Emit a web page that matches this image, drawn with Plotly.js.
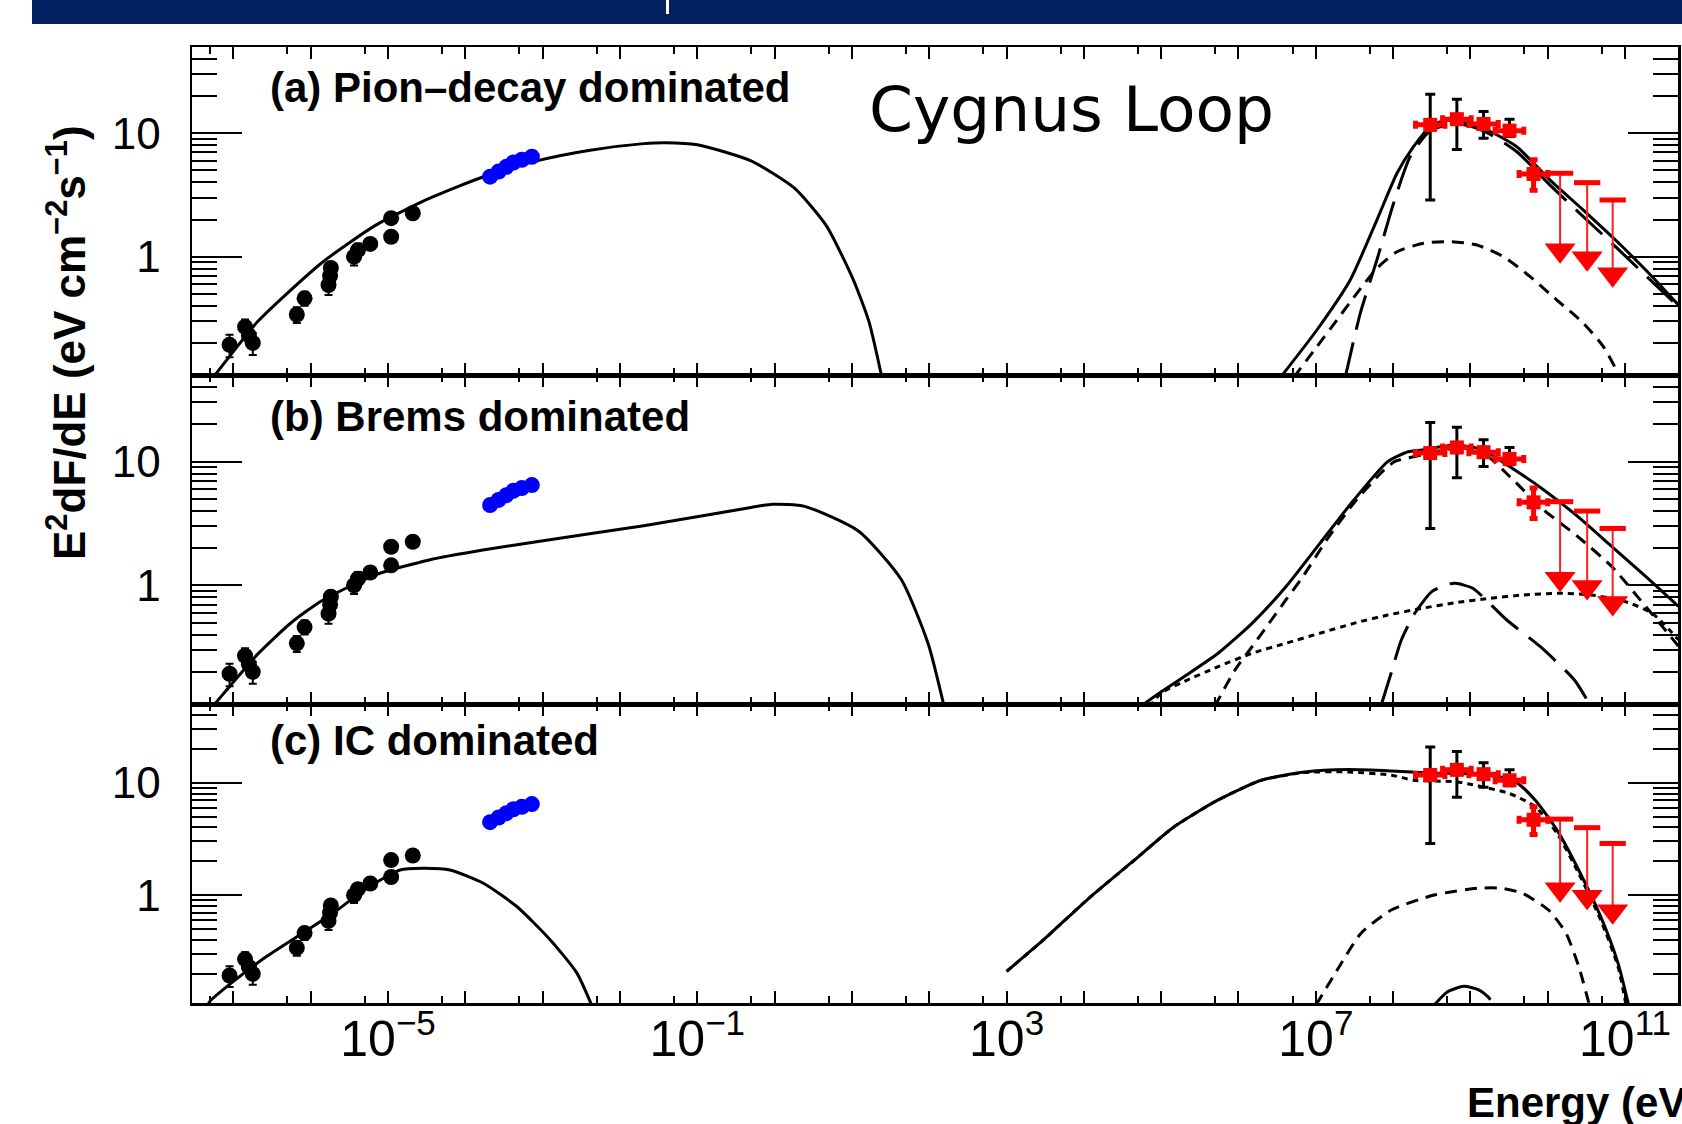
<!DOCTYPE html>
<html>
<head>
<meta charset="utf-8">
<script src="https://cdn.plot.ly/plotly-3.0.1.min.js"></script>
<style>html,body{margin:0;padding:0;background:#fff;}#chart{width:1682px;height:1124px;}</style>
</head>
<body>
<div id="chart"></div>
<script>
// ---------------- DATA ----------------
// log10(E/eV) and log10(E^2 dF/dE) for model curves
// Panel (a) Pion-decay dominated
const syncA_logE = [-7.30, -7.244, -6.69, -5.856, -5.163, -4.468, -3.775, -3.08, -2.387, -1.693, -1.416, -0.999, -0.305, 0.25, 0.666, 1.013, 1.221, 1.388];
const syncA_logF = [-1.00, -0.962, -0.528, -0.049, 0.254, 0.472, 0.646, 0.776, 0.863, 0.916, 0.924, 0.907, 0.776, 0.559, 0.254, -0.18, -0.528, -0.98];
const totalA_logE = [6.54, 7.014, 7.445, 7.79, 8.05, 8.264, 8.48, 8.696, 9.17, 9.6, 10.03, 10.46, 10.9, 11.33, 11.69];
const totalA_logF = [-0.98, -0.594, -0.189, 0.297, 0.676, 0.891, 1.054, 1.108, 1.04, 0.891, 0.62, 0.378, 0.121, -0.148, -0.391];
const pionA_logE = [7.38, 7.575, 7.79, 8.006, 8.22, 8.48, 8.825, 9.17, 9.6, 10.03, 10.46, 10.9, 11.33, 11.69];
const pionA_logF = [-0.98, -0.459, -0.027, 0.433, 0.81, 1.02, 1.08, 1.02, 0.85, 0.58, 0.325, 0.067, -0.19, -0.405];
const bremsA_logE = [6.712, 7.014, 7.273, 7.531, 7.79, 8.05, 8.393, 8.738, 9.083, 9.428, 9.773, 10.118, 10.463, 10.72, 10.94];
const bremsA_logF = [-0.98, -0.729, -0.513, -0.297, -0.094, 0.04, 0.109, 0.122, 0.095, 0.0, -0.162, -0.351, -0.54, -0.729, -0.98];
const floorA_logE = [3.16, 5.8];

// Panel (b) Brems dominated
const syncB_logE = [-7.30, -7.244, -6.69, -6.25, -5.856, -5.163, -4.468, -3.775, -3.08, -1.693, -0.305, -0.028, 0.388, 1.083, 1.636, 1.985, 2.193];
const syncB_logF = [-1.00, -0.96, -0.558, -0.30, -0.124, 0.085, 0.205, 0.285, 0.352, 0.482, 0.629, 0.655, 0.638, 0.439, 0.049, -0.47, -0.98];
const totalB_logE = [4.73, 5.0, 5.296, 5.736, 6.175, 6.613, 7.053, 7.492, 7.93, 8.194, 8.37, 8.81, 9.16, 9.511, 9.95, 10.39, 10.83, 11.27, 11.69];
const totalB_logF = [-0.98, -0.86, -0.738, -0.549, -0.307, -0.011, 0.339, 0.689, 0.999, 1.079, 1.093, 1.133, 1.093, 0.958, 0.77, 0.555, 0.313, 0.07, -0.17];
const bremsB_logE = [5.69, 5.955, 6.175, 6.395, 6.613, 6.833, 7.14, 7.49, 7.84, 8.018, 8.37, 8.81, 9.2, 9.511, 9.95, 10.39, 10.83, 11.27, 11.69];
const bremsB_logF = [-0.98, -0.684, -0.496, -0.307, -0.118, 0.07, 0.366, 0.663, 0.905, 0.999, 1.053, 1.107, 1.053, 0.877, 0.609, 0.393, 0.151, -0.173, -0.49];
const pionB_logE = [7.84, 7.974, 8.106, 8.28, 8.5, 8.72, 8.81, 9.03, 9.47, 9.905, 10.345, 10.56];
const pionB_logF = [-0.98, -0.71, -0.442, -0.226, -0.051, 0.01, 0.016, -0.024, -0.28, -0.496, -0.765, -0.98];
const icB_logE = [4.85, 5.0, 5.296, 5.736, 6.175, 6.613, 7.053, 7.492, 7.93, 8.37, 8.81, 9.247, 9.687, 10.126, 10.565, 11.0, 11.35, 11.69];
const icB_logF = [-0.98, -0.87, -0.778, -0.657, -0.549, -0.468, -0.387, -0.307, -0.24, -0.186, -0.14, -0.105, -0.078, -0.064, -0.078, -0.131, -0.225, -0.44];
const floorB_logE = [2.26, 4.69];

// Panel (c) IC dominated
const syncC_logE = [-7.35, -7.303, -7.001, -6.569, -6.138, -5.708, -5.276, -4.845, -4.543, -4.198, -3.767, -3.335, -2.904, -2.559, -2.365];
const syncC_logF = [-1.00, -0.942, -0.766, -0.544, -0.352, -0.159, 0.062, 0.224, 0.239, 0.224, 0.106, -0.101, -0.396, -0.691, -0.98];
const totalC_logE = [3.001, 3.48, 4.043, 4.606, 5.168, 5.731, 6.294, 6.857, 7.419, 7.982, 8.489, 9.108, 9.558, 9.839, 10.12, 10.4, 10.684, 10.908, 11.048];
const totalC_logF = [-0.677, -0.396, -0.041, 0.284, 0.608, 0.844, 1.021, 1.095, 1.116, 1.104, 1.086, 1.075, 1.021, 0.844, 0.578, 0.224, -0.189, -0.602, -0.98];
const icC_logE = [3.001, 3.48, 4.043, 4.606, 5.168, 5.731, 6.294, 6.857, 7.419, 7.982, 8.263, 8.826, 9.5, 9.839, 10.12, 10.4, 10.684, 10.908, 11.013];
const icC_logF = [-0.677, -0.396, -0.041, 0.284, 0.608, 0.844, 1.021, 1.09, 1.095, 1.066, 1.021, 1.006, 0.904, 0.785, 0.549, 0.194, -0.219, -0.632, -0.98];
const bremsC_logE = [7.0, 7.307, 7.588, 7.982, 8.545, 9.108, 9.389, 9.67, 10.007, 10.235, 10.4, 10.54];
const bremsC_logF = [-0.98, -0.632, -0.336, -0.13, 0.003, 0.062, 0.062, 0.018, -0.13, -0.336, -0.632, -0.98];
const pionC_logE = [8.528, 8.7, 8.916, 9.1, 9.218, 9.26];
const pionC_logF = [-0.98, -0.86, -0.81, -0.84, -0.898, -0.93];

// Radio data (black)
const radioLogE = [-7.05, -6.85, -6.80, -6.75, -6.18, -6.08, -5.77, -5.75, -5.74, -5.44, -5.39, -5.23, -4.96, -4.96, -4.68];
const radioFlux = [0.193, 0.27, 0.23, 0.20, 0.34, 0.46, 0.59, 0.70, 0.81, 1.00, 1.13, 1.27, 1.45, 2.05, 2.25];
const radioErr  = [0.04, 0.04, 0.03, 0.04, 0.05, 0.06, 0.10, 0.08, 0.08, 0.15, 0.15, 0.12, 0.12, 0.15, 0.15];

// Microwave data (blue)
const blueLogE = [-3.68, -3.57, -3.47, -3.38, -3.27, -3.14];
const blueFlux = [4.45, 4.9, 5.35, 5.8, 6.1, 6.45];

// Fermi-LAT data (red)
const fermiLogE   = [8.48, 8.825, 9.17, 9.506, 9.817];
const fermiBinLo  = [8.29, 8.64, 8.98, 9.32, 9.63];
const fermiBinHi  = [8.67, 9.01, 9.36, 9.69, 10.0];
const fermiFlux   = [11.7, 13.0, 11.9, 10.5, 4.68];
const fermiStatLo = [10.8, 12.0, 11.0, 9.8, 3.46];
const fermiStatHi = [12.6, 14.0, 12.8, 11.2, 6.1];
const sysLogE = [8.48, 8.825, 9.17, 9.506];
const sysFlux = [11.7, 13.0, 11.9, 10.5];
const sysLo   = [2.88, 7.4, 9.1, 9.4];
const sysHi   = [20.7, 18.9, 15.0, 13.0];

// Fermi upper limits
const ulLogE  = [10.16, 10.51, 10.84];
const ulBinLo = [9.99, 10.34, 10.67];
const ulBinHi = [10.33, 10.68, 11.01];
const ulFlux  = [4.74, 3.98, 2.88];
const ulArrow = [1.13, 0.97, 0.72];

// Tick labels
const xLabelExps = [-5, -1, 3, 7, 11];
const yTickVals = [1, 10];
const yTickText = ['1', '10'];
const panelLabels = ['(a) Pion\u2013decay dominated', '(b) Brems dominated', '(c) IC dominated'];

// ---------------- BUILD ----------------
const P = v => Math.pow(10, v);
const yMin = 0.11, yMax = 50;
const xRange = [-7.536, 11.685];
const yRange = [Math.log10(yMin), Math.log10(yMax)];
const FONT = 'Liberation Sans, Arial, Helvetica, sans-serif';

function curve(lx, ly, xa, ya, dash) {
  return {x: lx.map(P), y: ly.map(P), xaxis: xa, yaxis: ya, mode: 'lines', type: 'scatter',
    line: {color: 'black', width: 3, dash: dash || 'solid', shape: 'spline', smoothing: 0.6},
    hoverinfo: 'skip', showlegend: false};
}
const DASH_BREMS = '12px,8px', DASH_PION = '36px,13px', DASH_IC = '6px,5px';

function dataTraces(xa, ya) {
  const t = [];
  t.push({x: radioLogE.map(P), y: radioFlux, xaxis: xa, yaxis: ya, mode: 'markers', type: 'scatter',
    marker: {color: 'black', size: 16, symbol: 'circle'},
    error_y: {type: 'data', array: radioErr, color: 'black', thickness: 2, width: 4},
    showlegend: false, hoverinfo: 'skip'});
  t.push({x: blueLogE.map(P), y: blueFlux, xaxis: xa, yaxis: ya, mode: 'markers', type: 'scatter',
    marker: {color: '#0000ff', size: 16, symbol: 'circle'}, showlegend: false, hoverinfo: 'skip'});
  t.push({x: sysLogE.map(P), y: sysFlux, xaxis: xa, yaxis: ya, mode: 'markers', type: 'scatter',
    marker: {size: 1, color: 'rgba(0,0,0,0)'},
    error_y: {type: 'data', symmetric: false, array: sysHi.map((h, i) => h - sysFlux[i]),
      arrayminus: sysLo.map((l, i) => sysFlux[i] - l), color: 'black', thickness: 3, width: 5},
    showlegend: false, hoverinfo: 'skip'});
  t.push({x: fermiLogE.map(P), y: fermiFlux, xaxis: xa, yaxis: ya, mode: 'markers', type: 'scatter',
    marker: {color: '#ff0000', size: 14, symbol: 'square'},
    error_x: {type: 'data', symmetric: false, array: fermiBinHi.map((h, i) => P(h) - P(fermiLogE[i])),
      arrayminus: fermiBinLo.map((l, i) => P(fermiLogE[i]) - P(l)), color: '#ff0000', thickness: 5, width: 4},
    error_y: {type: 'data', symmetric: false, array: fermiStatHi.map((h, i) => h - fermiFlux[i]),
      arrayminus: fermiStatLo.map((l, i) => fermiFlux[i] - l), color: '#ff0000', thickness: 5, width: 4},
    showlegend: false, hoverinfo: 'skip'});
  t.push({x: ulLogE.map(P), y: ulFlux, xaxis: xa, yaxis: ya, mode: 'markers', type: 'scatter',
    marker: {size: 1, color: 'rgba(0,0,0,0)'},
    error_x: {type: 'data', symmetric: false, array: ulBinHi.map((h, i) => P(h) - P(ulLogE[i])),
      arrayminus: ulBinLo.map((l, i) => P(ulLogE[i]) - P(l)), color: '#ff0000', thickness: 5, width: 0},
    error_y: {type: 'data', symmetric: false, array: ulFlux.map(() => 0),
      arrayminus: ulArrow.map((a, i) => ulFlux[i] - a), color: '#ff2020', thickness: 2, width: 0},
    showlegend: false, hoverinfo: 'skip'});
  t.push({x: ulLogE.map(P), y: ulArrow, xaxis: xa, yaxis: ya, mode: 'markers', type: 'scatter',
    marker: {color: '#ff0000', size: 27, symbol: 'triangle-down'}, showlegend: false, hoverinfo: 'skip'});
  return t;
}

function floorLine(lx, xa, ya) {
  return {x: lx.map(P), y: lx.map(() => yMin * 1.01), xaxis: xa, yaxis: ya, mode: 'lines', type: 'scatter',
    line: {color: 'black', width: 3}, showlegend: false, hoverinfo: 'skip'};
}

const traces = [];
traces.push(curve(syncA_logE, syncA_logF, 'x', 'y'));
traces.push(floorLine(floorA_logE, 'x', 'y'));
traces.push(curve(bremsA_logE, bremsA_logF, 'x', 'y', DASH_BREMS));
traces.push(curve(pionA_logE, pionA_logF, 'x', 'y', DASH_PION));
traces.push(curve(totalA_logE, totalA_logF, 'x', 'y'));
traces.push(...dataTraces('x', 'y'));
traces.push(curve(syncB_logE, syncB_logF, 'x2', 'y2'));
traces.push(floorLine(floorB_logE, 'x2', 'y2'));
traces.push(curve(icB_logE, icB_logF, 'x2', 'y2', DASH_IC));
traces.push(curve(bremsB_logE, bremsB_logF, 'x2', 'y2', DASH_BREMS));
traces.push(curve(pionB_logE, pionB_logF, 'x2', 'y2', DASH_PION));
traces.push(curve(totalB_logE, totalB_logF, 'x2', 'y2'));
traces.push(...dataTraces('x2', 'y2'));
traces.push(curve(syncC_logE, syncC_logF, 'x3', 'y3'));
traces.push(curve(icC_logE, icC_logF, 'x3', 'y3', DASH_IC));
traces.push(curve(bremsC_logE, bremsC_logF, 'x3', 'y3', DASH_BREMS));
traces.push(curve(pionC_logE, pionC_logF, 'x3', 'y3'));
traces.push(curve(totalC_logE, totalC_logF, 'x3', 'y3'));
traces.push(...dataTraces('x3', 'y3'));
// invisible anchor trace for the label axis
traces.push({x: [1], y: [1], xaxis: 'x4', yaxis: 'y3', mode: 'markers', type: 'scatter',
  marker: {size: 1, opacity: 0}, showlegend: false, hoverinfo: 'skip'});

// axis ticks
const decadeVals = [], fiveVals = [];
for (let n = -8; n <= 11; n++) { decadeVals.push(P(n)); fiveVals.push(5 * P(n)); }
const labelVals = xLabelExps.map(P);
const labelText = xLabelExps.map(n => '10<sup>' + (n < 0 ? '\u2212' + (-n) : n) + '</sup>');
const yMinorVals = [0.2, 0.3, 0.4, 0.5, 0.6, 0.7, 0.8, 0.9, 2, 3, 4, 5, 6, 7, 8, 9, 20, 30, 40];

function xAxis(anchor) {
  return {type: 'log', range: xRange, anchor: anchor, showline: true, linecolor: 'black', linewidth: 2.5,
    mirror: 'ticks', ticks: 'inside', ticklen: 12, tickwidth: 2, tickcolor: 'black',
    tickmode: 'array', tickvals: decadeVals, showticklabels: false,
    showgrid: false, zeroline: false,
    minor: {tickmode: 'array', tickvals: fiveVals, ticks: 'inside', ticklen: 7, tickwidth: 2, tickcolor: 'black', showgrid: false}};
}
function yAxis(anchor, domain) {
  return {type: 'log', range: yRange, anchor: anchor, domain: domain, showline: true, linecolor: 'black', linewidth: 2.5,
    mirror: 'ticks', ticks: 'inside', ticklen: 50, tickwidth: 2, tickcolor: 'black',
    tickmode: 'array', tickvals: yTickVals, ticktext: yTickText, showgrid: false, zeroline: false,
    ticklabelstandoff: 20, tickfont: {family: FONT, size: 44, color: 'black'},
    minor: {tickmode: 'array', tickvals: yMinorVals, ticks: 'inside', ticklen: 25, tickwidth: 2, tickcolor: 'black', showgrid: false}};
}

const W = 1682, H = 1124, ML = 192, MR = 4, MT = 47, MB = 121;
const pw = W - ML - MR, ph = H - MT - MB;
const px = v => (v - ML) / pw;
const py = v => 1 - (v - MT) / ph;

const annotations = [
  {text: '<b>' + panelLabels[0] + '</b>', x: px(268), y: py(88)},
  {text: '<b>' + panelLabels[1] + '</b>', x: px(268), y: py(416)},
  {text: '<b>' + panelLabels[2] + '</b>', x: px(268), y: py(740)}
].map(a => Object.assign({xref: 'paper', yref: 'paper', xanchor: 'left', yanchor: 'middle', showarrow: false,
  font: {family: FONT, size: 42, color: 'black'}}, a));
annotations.push({xref: 'paper', yref: 'paper', x: px(867), y: py(110), xanchor: 'left', yanchor: 'middle',
  showarrow: false, text: 'Cygnus Loop', font: {family: 'DejaVu Sans, Verdana, sans-serif', size: 63, color: 'black'}});
annotations.push({xref: 'paper', yref: 'paper', x: px(1465), y: py(1102), xanchor: 'left', yanchor: 'middle',
  showarrow: false, text: '<b>Energy (eV)</b>', font: {family: FONT, size: 42, color: 'black'}});
annotations.push({xref: 'paper', yref: 'paper', x: px(66), y: py(343), xanchor: 'center', yanchor: 'middle',
  textangle: -90, showarrow: false, text: '<b>E<sup>2</sup>dF/dE (eV cm<sup>\u22122</sup>s<sup>\u22121</sup>)</b>',
  font: {family: FONT, size: 44, color: 'black'}});

const shapes = [
  {type: 'rect', xref: 'paper', yref: 'paper', x0: px(32), x1: px(1690), y0: py(24), y1: py(-5),
    fillcolor: '#002060', line: {width: 0}, layer: 'above'},
  {type: 'rect', xref: 'paper', yref: 'paper', x0: px(666), x1: px(669), y0: py(14), y1: py(-5),
    fillcolor: '#ffffff', line: {width: 0}, layer: 'above'}
];

const layout = {
  width: W, height: H, margin: {l: ML, r: MR, t: MT, b: MB, pad: 0},
  paper_bgcolor: '#ffffff', plot_bgcolor: '#ffffff', showlegend: false,
  xaxis: xAxis('y'), xaxis2: xAxis('y2'), xaxis3: xAxis('y3'),
  xaxis4: {type: 'log', range: xRange, overlaying: 'x3', anchor: 'y3', side: 'bottom', showline: false,
    ticks: '', tickmode: 'array', tickvals: labelVals, ticktext: labelText, showgrid: false, zeroline: false,
    ticklabelstandoff: 2, tickfont: {family: FONT, size: 50, color: 'black'}},
  yaxis: yAxis('x', [1 - 328 / ph, 1]),
  yaxis2: yAxis('x2', [299 / ph, 1 - 328 / ph]),
  yaxis3: yAxis('x3', [0, 299 / ph]),
  annotations: annotations, shapes: shapes, font: {family: FONT, color: 'black'}
};

Plotly.newPlot('chart', traces, layout, {displayModeBar: false, staticPlot: true});
</script>
</body>
</html>
